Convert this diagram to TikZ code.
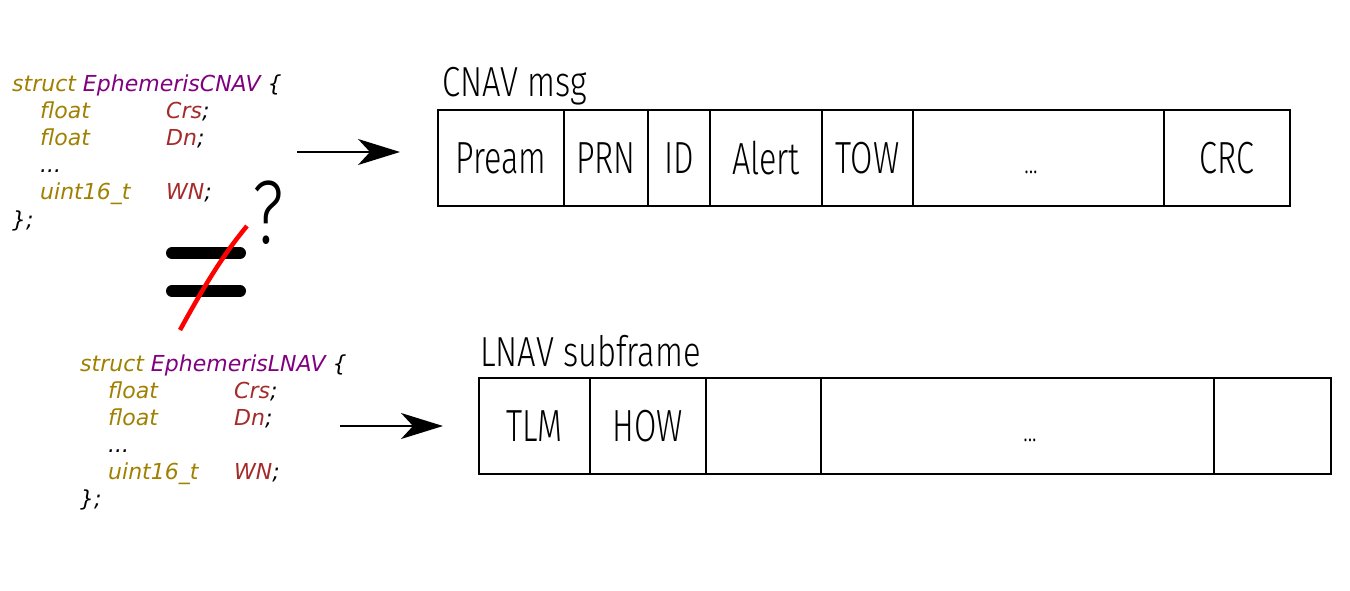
\documentclass[tikz,border=0pt]{standalone}
\usepackage{fontspec}
\setmainfont{DejaVu Sans}
\newfontfamily\boxfont[FakeStretch=0.72]{Fira Sans Light}
\newfontfamily\titlefont[FakeStretch=0.78]{Fira Sans Light}
\usetikzlibrary{positioning,arrows.meta}
\definecolor{kwcol}{RGB}{160,128,0}
\definecolor{typecol}{RGB}{128,0,128}
\definecolor{varcol}{RGB}{165,42,42}
\newcommand{\kw}[1]{\textcolor{kwcol}{#1}}
\newcommand{\decl}[2]{\makebox[126pt][l]{\kw{#1}}\textcolor{varcol}{#2};}
\tikzset{
  codeline/.style={anchor=base west, inner sep=0pt, font=\fontsize{22}{27}\selectfont\itshape},
  field/.style={draw, line width=1.7pt, minimum height=96pt, inner sep=0pt, outer sep=0pt,
    anchor=west, font=\boxfont\fontsize{45}{45}\selectfont},
  boxtitle/.style={anchor=base west, inner sep=0pt, font=\titlefont\fontsize{42}{42}\selectfont},
  gap/.style={inner sep=0pt, font=\boxfont\fontsize{30}{30}\selectfont},
  flow/.style={-{Stealth[length=42pt,width=26pt,inset=12pt]}, line width=1.6pt},
  bar/.style={line width=12pt, line cap=round}
}
\begin{document}
\begin{tikzpicture}[x=1pt,y=-1pt]
\useasboundingbox (0,0) rectangle (1350,591);
% CNAV struct
\node[codeline] (cnavhead) at (12,92) {\kw{struct} \textcolor{typecol}{EphemerisCNAV} \{};
\node[codeline] (cnavcrs) at (40,119) {\decl{float}{Crs}};
\node[codeline] (cnavdn) at (40,146) {\decl{float}{Dn}};
\node[codeline] (cnavdots) at (40,173) {...};
\node[codeline] (cnavwn) at (40,200) {\decl{uint16\_t}{WN}};
\node[codeline] (cnavend) at (12,227) {\};};
% LNAV struct
\node[codeline] (lnavhead) at (80,371) {\kw{struct} \textcolor{typecol}{EphemerisLNAV} \{};
\node[codeline] (lnavcrs) at (108,398) {\decl{float}{Crs}};
\node[codeline] (lnavdn) at (108,425) {\decl{float}{Dn}};
\node[codeline] (lnavdots) at (108,452) {...};
\node[codeline] (lnavwn) at (108,479) {\decl{uint16\_t}{WN}};
\node[codeline] (lnavend) at (80,506) {\};};
% not equal
\draw[bar] (172,253) -- (240,253);
\draw[bar] (172,291) -- (240,291);
\draw[red, line width=4.5pt] (180,330) .. controls (202,290) and (222,256) .. (247,226);
\node[inner sep=0pt, font=\titlefont\fontsize{90}{90}\selectfont] (ask) at (268,213) {?};
% CNAV msg
\node[boxtitle] (cnavtitle) at (442,97) {CNAV msg};
\node[field, minimum width=126pt] (pream) at (438,158) {Pream};
\node[field, minimum width=84pt, right=0pt of pream] (prn) {PRN};
\node[field, minimum width=62pt, right=0pt of prn] (id) {ID};
\node[field, minimum width=112pt, right=0pt of id] (alert) {Alert};
\node[field, minimum width=91pt, right=0pt of alert] (tow) {TOW};
\node[field, minimum width=251pt, right=0pt of tow] (cnavrest) {};
\node[field, minimum width=126pt, right=0pt of cnavrest] (crc) {CRC};
\node[gap, anchor=base] (cnavgap) at (1031,174) {...};
% LNAV subframe
\node[boxtitle] (lnavtitle) at (480,366) {LNAV subframe};
\node[field, minimum width=111pt] (tlm) at (479,426) {TLM};
\node[field, minimum width=116pt, right=0pt of tlm] (how) {HOW};
\node[field, minimum width=115pt, right=0pt of how] (word3) {};
\node[field, minimum width=393pt, right=0pt of word3] (lnavrest) {};
\node[field, minimum width=117pt, right=0pt of lnavrest] (word10) {};
\node[gap, anchor=base] (lnavgap) at (1030,441) {...};
% arrows
\coordinate (cnavfrom) at (297,152);
\coordinate (cnavto) at (400,152);
\coordinate (lnavfrom) at (340,426);
\coordinate (lnavto) at (443,426);
\draw[flow] (cnavfrom) -- (cnavto);
\draw[flow] (lnavfrom) -- (lnavto);
\end{tikzpicture}
\end{document}
